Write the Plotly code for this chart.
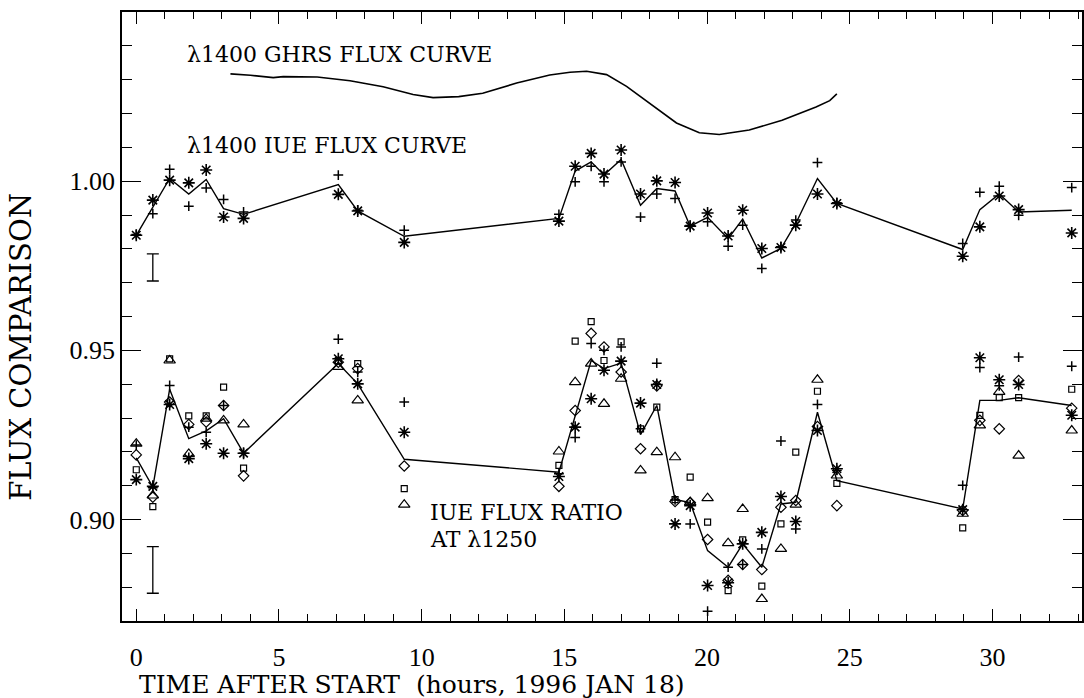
import plotly.graph_objects as go

# ---------------- data ----------------
times = [0.0, 0.58, 1.17, 1.84, 2.45, 3.06, 3.76, 7.08, 7.76, 9.39, 14.81, 15.38,
         15.94, 16.39, 16.99, 17.67, 18.24, 18.88, 19.41, 20.02, 20.74, 21.25,
         21.92, 22.59, 23.11, 23.87, 24.55, 28.96, 29.56, 30.24, 30.92, 32.78]

# lambda1400 IUE flux curve (upper group)
iue_ast = [0.9840, 0.9944, 1.0003, 0.9995, 1.0033, 0.9894, 0.9890, 0.9961, 0.9912, 0.9819,
           0.9882, 1.0044, 1.0082, 1.0021, 1.0092, 0.9962, 1.0001, 0.9996, 0.9867, 0.9906,
           0.9838, 0.9914, 0.9801, 0.9804, 0.9870, 0.9962, 0.9934, 0.9778, 0.9865, 0.9956,
           0.9916, 0.9847]
iue_plus = [0.9842, 0.9904, 1.0035, 0.9926, 0.9980, 0.9946, 0.9909, 1.0018, 0.9914, 0.9855,
            0.9902, 0.9998, 1.0044, 0.9998, 1.0057, 0.9894, 0.9962, 0.9949, 0.9869, 0.9880,
            0.9808, 0.9870, 0.9742, 0.9806, 0.9885, 1.0055, 0.9936, 0.9816, 0.9967, 0.9985,
            0.9899, 0.9981]
iue_line = [0.9840, 0.9924, 1.0008, 0.9962, 1.0005, 0.9919, 0.9902, 0.9990, 0.9912, 0.9837,
            0.9890, 1.0030, 1.0057, 1.0018, 1.0064, 0.9929, 0.9978, 0.9971, 0.9867, 0.9893,
            0.9830, 0.9888, 0.9773, 0.9801, 0.9875, 1.0008, 0.9934, 0.9798, 0.9916, 0.9962,
            0.9909, 0.9914]

# IUE flux ratio at lambda1250 (lower group)
r_plus = [0.9220, 0.9094, 0.9396, 0.9273, 0.9258, 0.9337, 0.9196, 0.9533, 0.9436, 0.9347,
          0.9135, 0.9242, 0.9520, 0.9500, 0.9510, 0.9268, 0.9462, 0.9058, 0.8987, 0.8729,
          0.8859, 0.8867, 0.8913, 0.9232, 0.8972, 0.9340, 0.9145, 0.9101, 0.9449, 0.9395,
          0.9480, 0.9453]
r_ast = [0.9118, 0.9098, 0.9340, 0.9180, 0.9224, 0.9196, 0.9196, 0.9475, 0.9401, 0.9258,
         0.9127, 0.9273, 0.9357, 0.9441, 0.9468, 0.9344, 0.9399, 0.8987, 0.9041, 0.8805,
         0.8813, 0.8928, 0.8962, 0.9068, 0.8994, 0.9263, 0.9150, 0.9029, 0.9478, 0.9413,
         0.9399, 0.9308]
r_square = [0.9147, 0.9038, 0.9475, 0.9306, 0.9306, 0.9391, 0.9152, 0.9470, 0.9461, 0.9091,
            0.9160, 0.9527, 0.9585, 0.9470, 0.9525, 0.9268, 0.9332, 0.9059, 0.9125, 0.8992,
            0.8790, 0.8940, 0.8803, 0.8987, 0.9199, 0.9379, 0.9107, 0.8975, 0.9308, 0.9360,
            0.9360, 0.9385]
r_diamond = [0.9191, 0.9066, 0.9347, 0.9281, 0.9288, 0.9337, 0.9129, 0.9465, 0.9446, 0.9158,
             0.9098, 0.9322, 0.9550, 0.9510, 0.9436, 0.9209, 0.9395, 0.9053, 0.9050, 0.8941,
             0.8820, 0.8867, 0.8852, 0.9036, 0.9056, 0.9275, 0.9041, 0.9027, 0.9293, 0.9268,
             0.9411, 0.9329]
r_triangle = [0.9224, 0.9071, 0.9470, 0.9194, 0.9298, 0.9293, 0.9281, 0.9451, 0.9352, 0.9044,
              0.9201, 0.9406, 0.9461, 0.9342, 0.9416, 0.9145, 0.9199, 0.9184, 0.9051, 0.9063,
              0.8930, 0.9031, 0.8765, 0.8913, 0.9044, 0.9413, 0.9130, 0.9017, 0.9278, 0.9377,
              0.9189, 0.9263]
r_line = [0.9182, 0.9096, 0.9385, 0.9239, 0.9262, 0.9298, 0.9196, 0.9461, 0.9401, 0.9178,
          0.9140, 0.9310, 0.9470, 0.9446, 0.9462, 0.9251, 0.9337, 0.9059, 0.9050, 0.8908,
          0.8859, 0.8928, 0.8859, 0.9046, 0.9051, 0.9317, 0.9115, 0.9031, 0.9352, 0.9352,
          0.9360, 0.9337]

# lambda1400 GHRS flux curve
ghrs_t = [3.30, 4.00, 4.80, 5.15, 6.34, 7.49, 8.65, 9.70, 10.40, 11.30, 12.14, 13.33, 14.49,
          15.20, 15.78, 16.48, 17.18, 17.98, 18.93, 19.73, 20.43, 21.48, 22.63, 23.82, 24.30,
          24.55]
ghrs_f = [1.0317, 1.0313, 1.0306, 1.0309, 1.0308, 1.0297, 1.0279, 1.0256, 1.0247, 1.0250,
          1.0260, 1.0290, 1.0314, 1.0322, 1.0325, 1.0315, 1.0280, 1.0231, 1.0172, 1.0143,
          1.0138, 1.0151, 1.0180, 1.0219, 1.0238, 1.0258]

# representative error bars
err_t = [0.58, 0.58]
err_center = [0.9745, 0.8851]
err_half = [0.0040, 0.0069]

x_ticks = [0, 5, 10, 15, 20, 25, 30]
y_ticks = [0.90, 0.95, 1.00]
y_ticklabels = ["0.90", "0.95", "1.00"]

# ---------------- figure ----------------
BLACK = "#000000"
TXT = "DejaVu Serif"
TICKF = "Liberation Serif"

fig = go.Figure()

def markers(x, y, symbol, size, lw):
    fig.add_trace(go.Scatter(x=x, y=y, mode="markers",
                             marker=dict(symbol=symbol, size=size, color=BLACK,
                                         line=dict(color=BLACK, width=lw)),
                             showlegend=False, hoverinfo="skip"))

def line(x, y, w=1.4):
    fig.add_trace(go.Scatter(x=x, y=y, mode="lines", line=dict(color=BLACK, width=w),
                             showlegend=False, hoverinfo="skip"))

line(ghrs_t, ghrs_f, 1.6)
line(times, iue_line)
markers(times, iue_plus, "cross-thin-open", 7, 1.5)
markers(times, iue_ast, "asterisk-open", 10, 1.6)

line(times, r_line)
markers(times, r_plus, "cross-thin-open", 7, 1.5)
markers(times, r_ast, "asterisk-open", 10, 1.6)
markers(times, r_square, "square-open", 6, 1.2)
markers(times, r_diamond, "diamond-open", 8, 1.2)
markers(times, r_triangle, "triangle-up-open", 10, 1.2)

fig.add_trace(go.Scatter(x=err_t, y=err_center, mode="markers",
                         marker=dict(size=0.1, color="rgba(0,0,0,0)"),
                         error_y=dict(type="data", array=err_half, visible=True,
                                      color=BLACK, thickness=1.3, width=6),
                         showlegend=False, hoverinfo="skip"))

ann_font = dict(family=TXT, size=22, color=BLACK)
fig.add_annotation(x=1.72, y=1.0373, text="λ1400 GHRS FLUX CURVE", showarrow=False,
                   xanchor="left", yanchor="middle", font=ann_font)
fig.add_annotation(x=1.72, y=1.0104, text="λ1400 IUE FLUX CURVE", showarrow=False,
                   xanchor="left", yanchor="middle", font=ann_font)
fig.add_annotation(x=10.22, y=0.9020, text="IUE FLUX RATIO", showarrow=False,
                   xanchor="left", yanchor="middle", font=ann_font)
fig.add_annotation(x=10.22, y=0.8942, text="AT λ1250", showarrow=False,
                   xanchor="left", yanchor="middle", font=ann_font)

# axis titles (placed as in the reference)
fig.add_annotation(xref="paper", yref="paper", x=0.3025, y=-0.104,
                   text="TIME AFTER START\u00a0\u00a0(hours, 1996 JAN 18)", showarrow=False,
                   xanchor="center", yanchor="middle",
                   font=dict(family=TXT, size=25, color=BLACK))
fig.add_annotation(xref="paper", yref="paper", x=-0.106, y=0.4507, textangle=-90,
                   text="FLUX COMPARISON", showarrow=False,
                   xanchor="center", yanchor="middle",
                   font=dict(family=TXT, size=29, color=BLACK))

fig.update_layout(
    width=1084, height=698,
    margin=dict(l=122, r=0, t=12, b=77),
    paper_bgcolor="white", plot_bgcolor="white",
    showlegend=False,
    xaxis=dict(range=[-0.5, 33.14], tickvals=x_ticks, ticks="inside", ticklen=12,
               tickwidth=1.3, tickcolor=BLACK, showline=True, linecolor=BLACK,
               linewidth=1.5, mirror="ticks", showgrid=False, zeroline=False,
               ticklabelstandoff=12,
               tickfont=dict(family=TICKF, size=26, color=BLACK),
               minor=dict(ticks="inside", ticklen=7, dtick=1, tickwidth=1.3,
                          tickcolor=BLACK, showgrid=False)),
    yaxis=dict(range=[0.87, 1.05], tickvals=y_ticks, ticktext=y_ticklabels,
               ticks="inside", ticklen=19, tickwidth=1.3, tickcolor=BLACK,
               showline=True, linecolor=BLACK, linewidth=1.5, mirror="ticks",
               showgrid=False, zeroline=False,
               tickfont=dict(family=TICKF, size=26, color=BLACK),
               minor=dict(ticks="inside", ticklen=10, dtick=0.01, tick0=0.87,
                          tickwidth=1.3, tickcolor=BLACK, showgrid=False)),
)

fig.write_html("out.html")
